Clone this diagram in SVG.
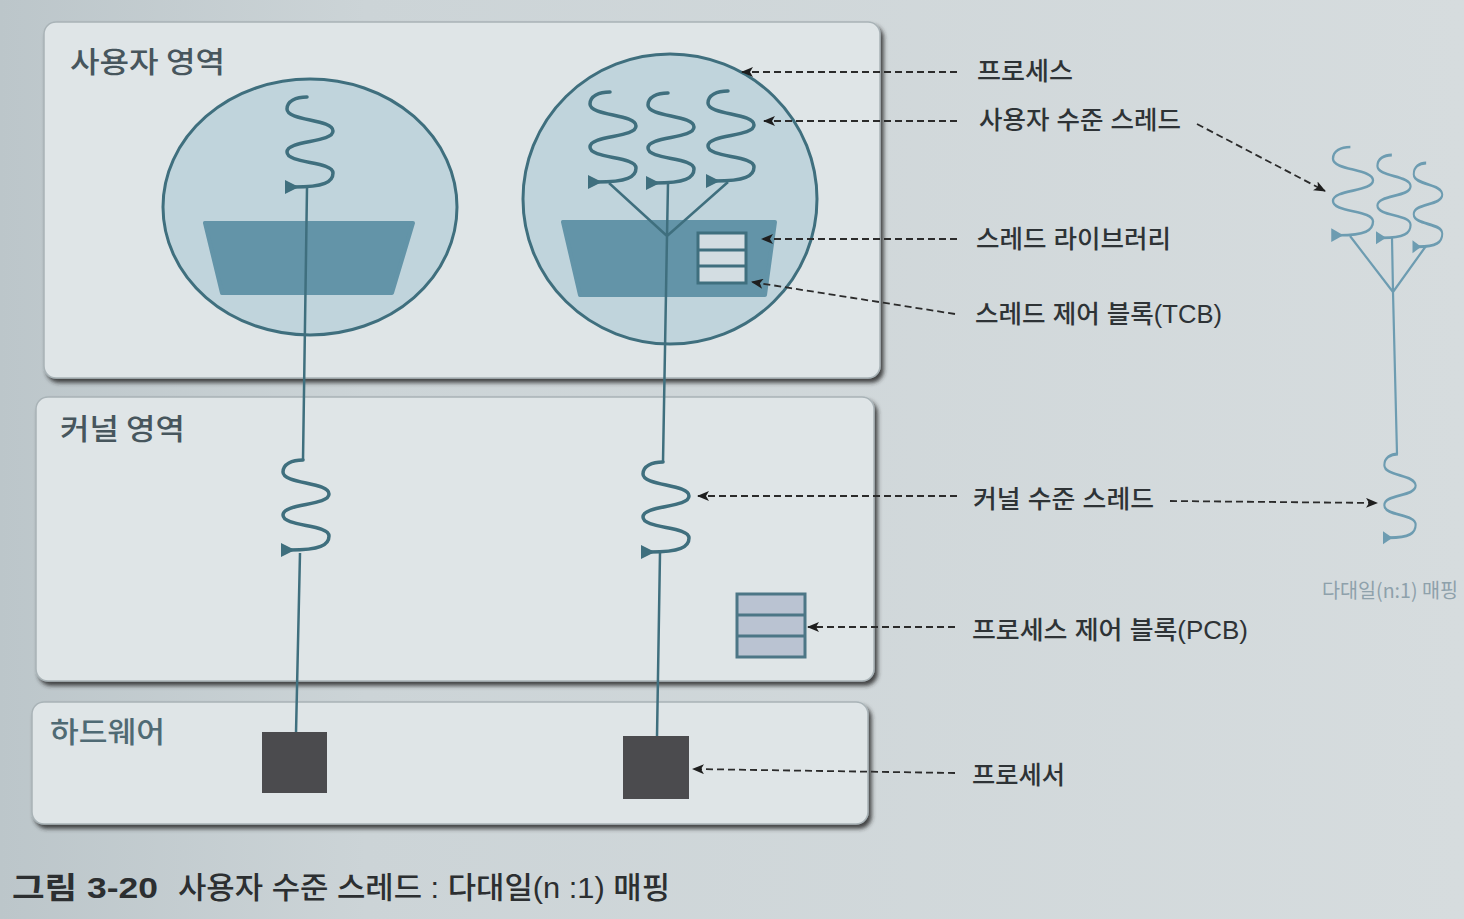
<svg xmlns="http://www.w3.org/2000/svg" xmlns:xlink="http://www.w3.org/1999/xlink" width="1464" height="919" viewBox="0 0 1464 919">
<style>
.lbl{font-family:"Liberation Sans","Noto Sans CJK KR",sans-serif;font-size:25px;fill:#2e3336;font-weight:500}
.area{font-family:"Noto Sans CJK KR","Liberation Sans",sans-serif;font-size:29px;fill:#47565d;font-weight:500}
.cap{font-family:"Liberation Sans","Noto Sans CJK KR",sans-serif;font-size:30px;fill:#2c2f31;font-weight:500}
.panel{fill:#dfe5e7;stroke:#a9b3b7;stroke-width:1.5;filter:url(#sh)}
.cell{fill:#c0d4dc;stroke:#3f6f7e;stroke-width:3}
.lib{fill:#6394a8;stroke:#6394a8;stroke-width:4;stroke-linejoin:round}
.thf{fill:#3f6f7e;stroke:#3f6f7e;stroke-width:3.5;stroke-linecap:round}
.tl{fill:none;stroke:#3f6f7e;stroke-width:2.5}
.sm{fill:#6d9cb1;stroke:#6d9cb1}
.sml{fill:none;stroke:#6d9cb1;stroke-width:2.2}
.dash{fill:none;stroke:#2b2b2b;stroke-width:1.8;stroke-dasharray:7 4;marker-end:url(#ah)}
.hw{fill:#4b4b4e}
.tcb{fill:#d3dde2;stroke:#3f6f7e;stroke-width:3}
.pcb{fill:#bac3d2;stroke:#4c7686;stroke-width:3}
</style>
<defs>
<linearGradient id="bg" x1="0" y1="0" x2="1" y2="0">
<stop offset="0" stop-color="#bcc6ca"/>
<stop offset="0.25" stop-color="#ccd4d7"/>
<stop offset="1" stop-color="#d6dcde"/>
</linearGradient>
<filter id="sh" x="-5%" y="-5%" width="110%" height="115%">
<feDropShadow dx="3" dy="4" stdDeviation="2" flood-color="#2a2a2a" flood-opacity="0.85"/>
</filter>
<marker id="ah" markerUnits="userSpaceOnUse" markerWidth="12" markerHeight="10" refX="11" refY="5" orient="auto">
<path d="M0,0 L12,5 L0,10 L3,5 z" fill="#1e1e1e"/>
</marker>
<g id="sq">
<path fill="none" d="M-3,0 C-14,0 -23,4 -23,12 C-23,24 23,22 23,34 C23,46 -23,43 -23,55 C-23,67 23,64 23,76 C23,85 14,90 -16,90"/>
<polygon stroke="none" points="-25,83 -25,97 -11,90"/>
</g>
</defs>

<rect x="0" y="0" width="1464" height="919" fill="url(#bg)"/>

<g id="user-area">
<rect class="panel" x="44" y="22" width="836" height="356" rx="12"/>
<text class="area" x="70" y="73" textLength="155" lengthAdjust="spacingAndGlyphs">사용자 영역</text>
</g>
<g id="kernel-area">
<rect class="panel" x="36" y="397" width="838" height="284" rx="12"/>
<text class="area" x="60" y="440" textLength="125" lengthAdjust="spacingAndGlyphs">커널 영역</text>
</g>
<g id="hardware-area">
<rect class="panel" x="32" y="702" width="836" height="122" rx="12"/>
<text class="area" x="50" y="743" textLength="115" lengthAdjust="spacingAndGlyphs" style="fill:#4f6a74">하드웨어</text>
</g>

<g id="process-1">
<ellipse class="cell" cx="310" cy="207" rx="147" ry="128"/>
<polygon class="lib" points="205,223 413,223 392,293 222,293"/>
</g>
<g id="process-2">
<ellipse class="cell" cx="670" cy="199" rx="147" ry="145"/>
<polygon class="lib" points="563,222 775,222 765,295 580,295"/>
<g id="tcb">
<rect class="tcb" x="698" y="233" width="48" height="50"/>
<path class="tcb" d="M698,250 H746 M698,266 H746"/>
</g>
</g>

<g id="connectors">
<path class="tl" d="M307,188 L303,460 M300,553 L296,733"/>
<path class="tl" d="M609,183 L667,236 M668,183 L667,236 M728,182 L667,236 M667,236 L663,462 M660,553 L657,737"/>
<path class="dash" d="M957,72 H742"/>
<path class="dash" d="M957,121 H764"/>
<path class="dash" d="M957,239 H762"/>
<path class="dash" d="M955,314 L752,282"/>
<path class="dash" d="M957,496 H698"/>
<path class="dash" d="M955,627 H808"/>
<path class="dash" d="M955,773 L693,769"/>
<path class="dash" d="M1197,124 L1325,191"/>
<path class="dash" d="M1170,501 L1377,503"/>
<path class="sml" d="M1350,236 L1393,292 M1392,238 L1393,292 M1426,246 L1393,292 M1393,292 L1397,454"/>
</g>

<g id="user-thread-1"><use xlink:href="#sq" href="#sq" class="thf" transform="translate(310,97)"/></g>
<g id="user-thread-2"><use xlink:href="#sq" href="#sq" class="thf" transform="translate(613,92)"/></g>
<g id="user-thread-3"><use xlink:href="#sq" href="#sq" class="thf" transform="translate(671,93)"/></g>
<g id="user-thread-4"><use xlink:href="#sq" href="#sq" class="thf" transform="translate(731,91)"/></g>
<g id="kernel-thread-1"><use xlink:href="#sq" href="#sq" class="thf" transform="translate(306,460)"/></g>
<g id="kernel-thread-2"><use xlink:href="#sq" href="#sq" class="thf" transform="translate(666,462)"/></g>

<g id="pcb">
<rect class="pcb" x="737" y="594" width="68" height="63"/>
<path class="pcb" d="M737,615 H805 M737,636 H805"/>
</g>
<g id="processor-1"><rect class="hw" x="262" y="732" width="65" height="61"/></g>
<g id="processor-2"><rect class="hw" x="623" y="736" width="66" height="63"/></g>

<g id="labels">
<text class="lbl" x="977" y="80" textLength="96" lengthAdjust="spacingAndGlyphs">프로세스</text>
<text class="lbl" x="979" y="129" textLength="202" lengthAdjust="spacingAndGlyphs">사용자 수준 스레드</text>
<text class="lbl" x="976" y="248" textLength="195" lengthAdjust="spacingAndGlyphs">스레드 라이브러리</text>
<text class="lbl" x="975" y="323" textLength="247" lengthAdjust="spacingAndGlyphs">스레드 제어 블록(TCB)</text>
<text class="lbl" x="973" y="508" textLength="181" lengthAdjust="spacingAndGlyphs">커널 수준 스레드</text>
<text class="lbl" x="972" y="639" textLength="276" lengthAdjust="spacingAndGlyphs">프로세스 제어 블록(PCB)</text>
<text class="lbl" x="972" y="784" textLength="93" lengthAdjust="spacingAndGlyphs">프로세서</text>
</g>

<g id="n1-mapping">
<use xlink:href="#sq" href="#sq" class="sm" style="stroke-width:2.7" transform="translate(1353,147) scale(0.87,0.98)"/>
<use xlink:href="#sq" href="#sq" class="sm" style="stroke-width:3" transform="translate(1394,155) scale(0.72,0.92)"/>
<use xlink:href="#sq" href="#sq" class="sm" style="stroke-width:3.2" transform="translate(1428,163) scale(0.62,0.93)"/>
<use xlink:href="#sq" href="#sq" class="sm" style="stroke-width:3.1" transform="translate(1400,454) scale(0.68,0.93)"/>
<text x="1322" y="598" textLength="136" lengthAdjust="spacingAndGlyphs" style="font-family:'Noto Sans CJK KR',sans-serif;font-size:20px;fill:#8ea1ab">다대일(n:1) 매핑</text>
</g>

<g id="caption">
<text class="cap" x="12" y="898" textLength="146" lengthAdjust="spacingAndGlyphs" style="font-weight:bold">그림 3-20</text>
<text class="cap" x="178" y="898" textLength="492" lengthAdjust="spacingAndGlyphs">사용자 수준 스레드 : 다대일(n :1) 매핑</text>
</g>
</svg>
